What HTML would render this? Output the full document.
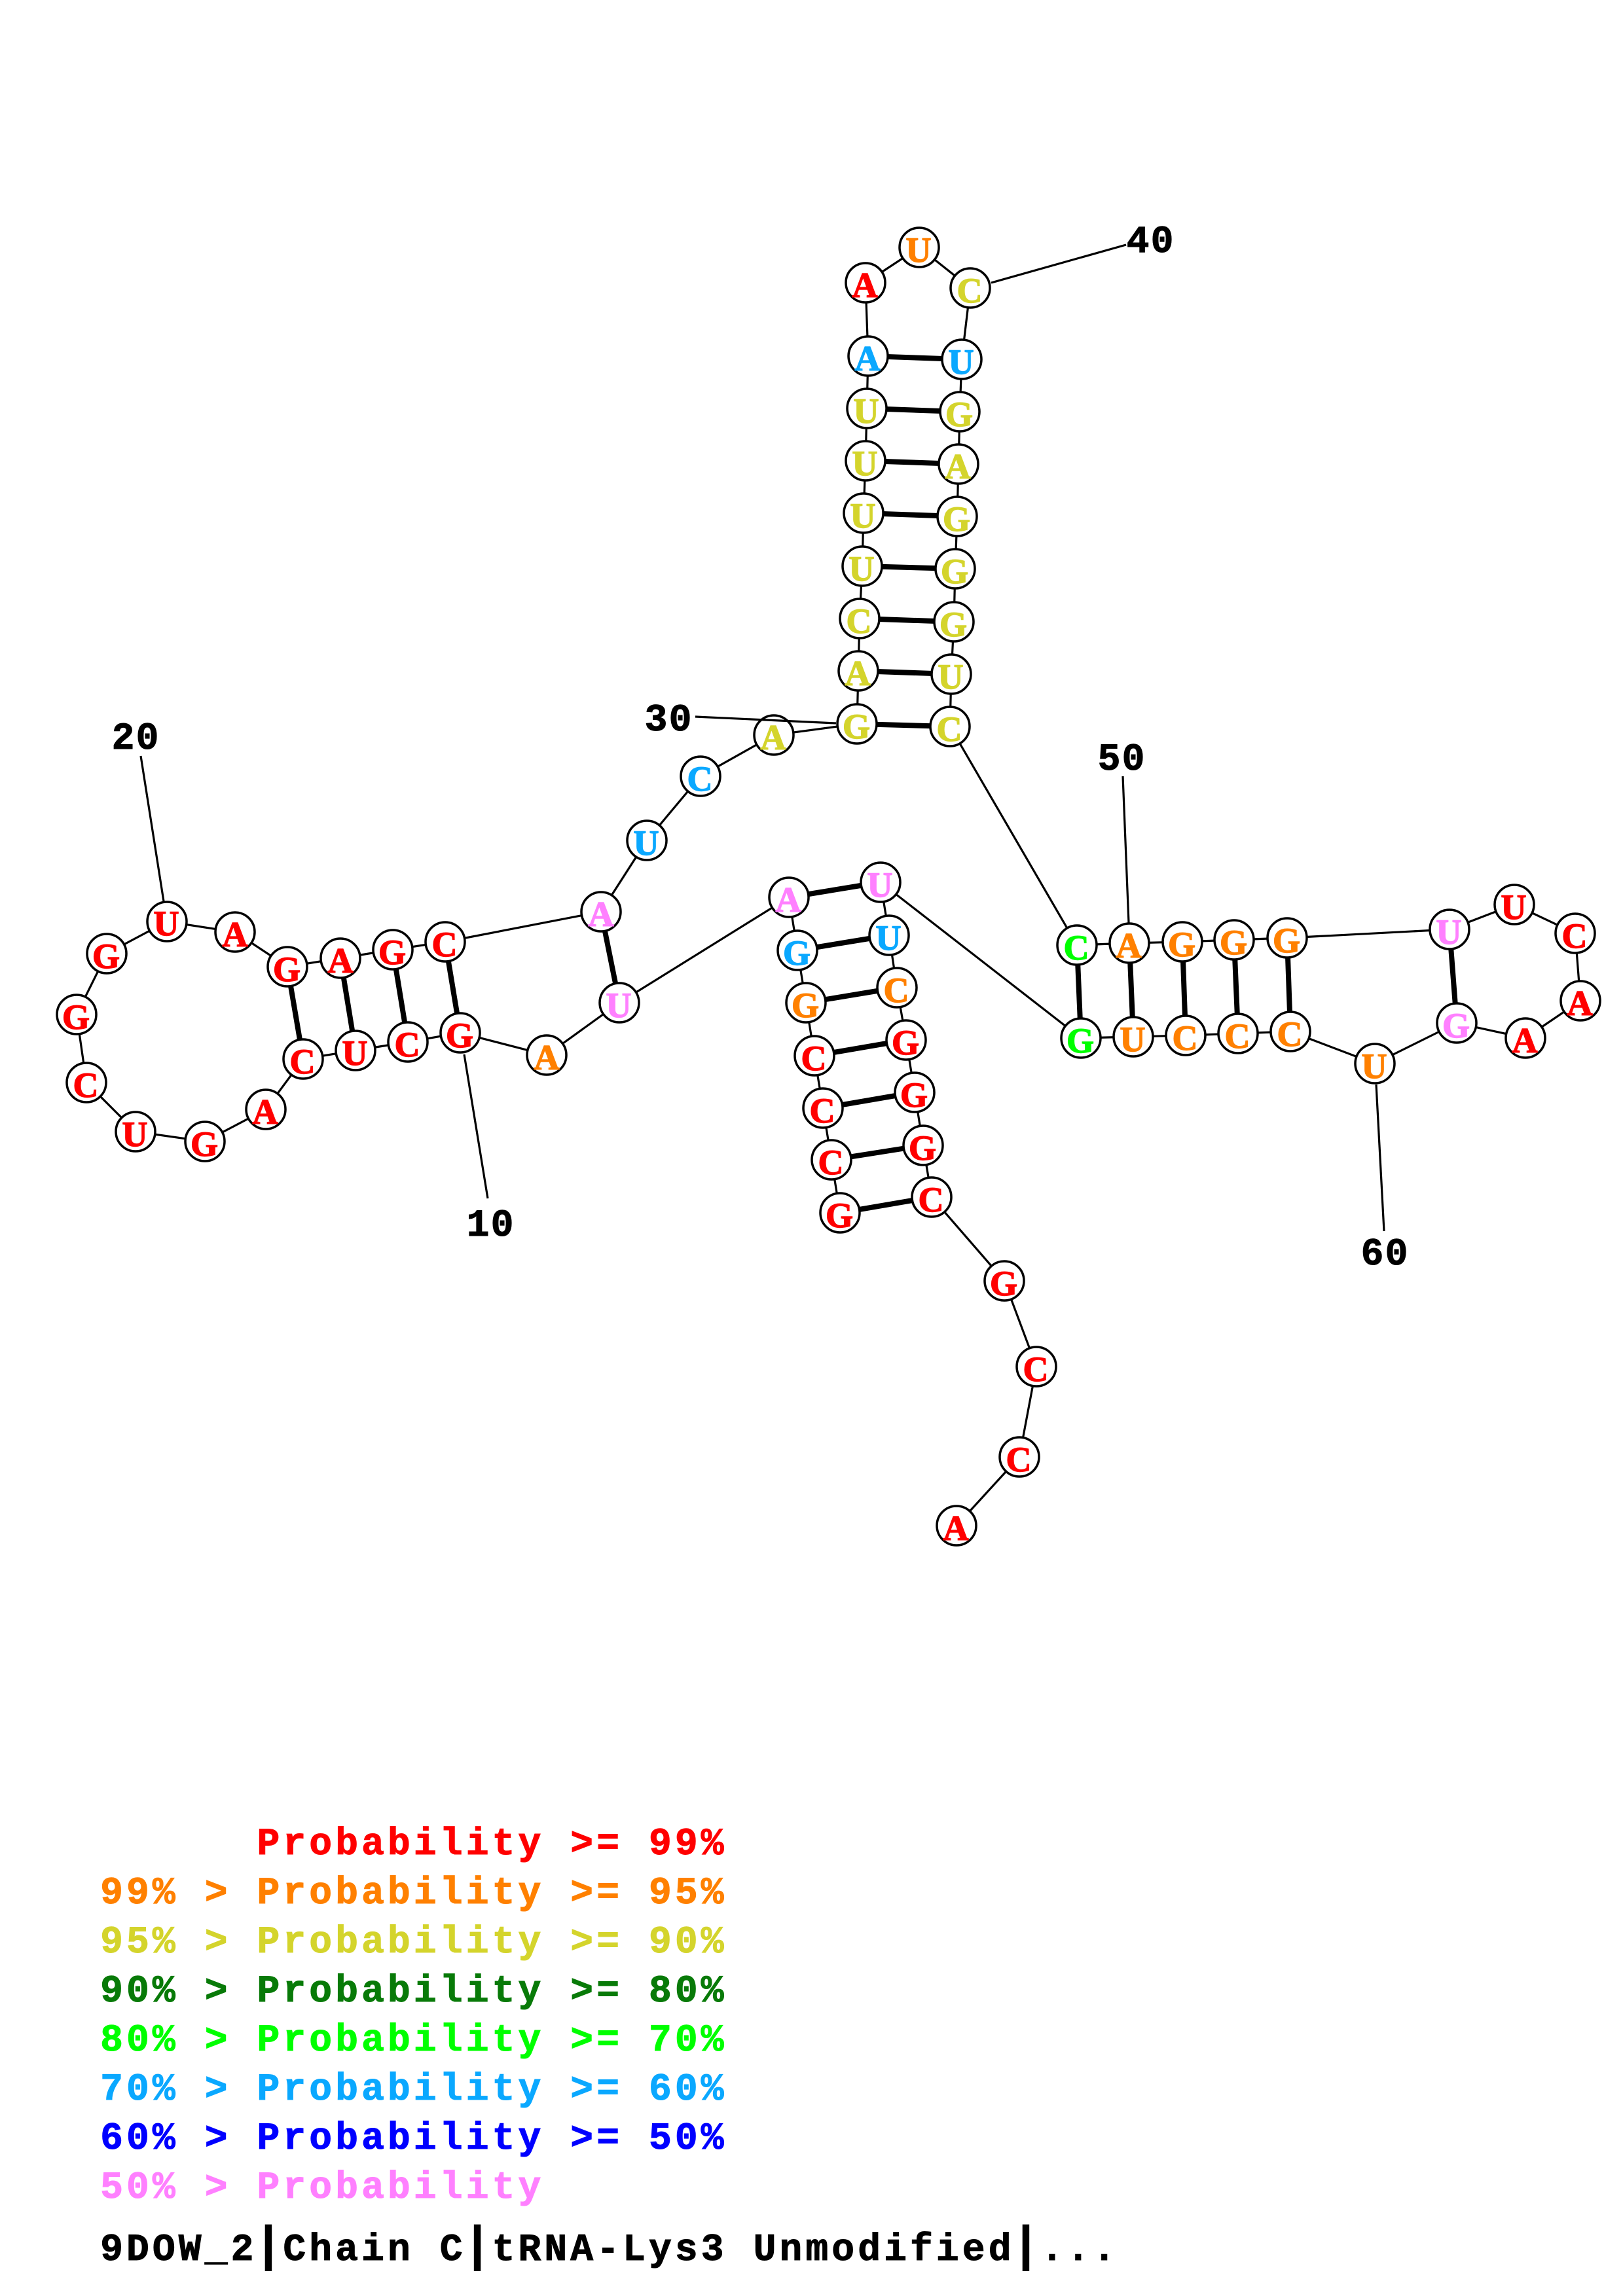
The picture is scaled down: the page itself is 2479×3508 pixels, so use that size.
<!DOCTYPE html>
<html lang="en">
<head>
<meta charset="utf-8">
<title>9DOW_2 RNA secondary structure</title>
<style>
html,body{margin:0;padding:0;background:#fff}
svg{display:block}
.b{stroke:#000;stroke-width:3.2;fill:none}
.p{stroke:#000;stroke-width:8;fill:none}
.l{stroke:#000;stroke-width:3.2;fill:none}
circle{fill:#fff;stroke:#000;stroke-width:3.5}
.n text{font-family:"Liberation Serif",serif;font-weight:700;font-size:54px;text-anchor:middle;stroke-width:1.4}
.t{font-family:"Liberation Mono",monospace;font-weight:700;font-size:58px;text-anchor:middle;stroke-width:1}
.num{font-family:"Liberation Mono",monospace;font-weight:700;font-size:58px;text-anchor:middle;fill:#000;stroke:#000;stroke-width:1}
.r{fill:#ff0000;stroke:#ff0000}.o{fill:#ff8000;stroke:#ff8000}.y{fill:#d4d42c;stroke:#d4d42c}.g{fill:#087a08;stroke:#087a08}.h{fill:#00ff00;stroke:#00ff00}.c{fill:#0aa8ff;stroke:#0aa8ff}.u{fill:#0000ff;stroke:#0000ff}.m{fill:#ff80ff;stroke:#ff80ff}.k{fill:#000;stroke:#000}
</style>
</head>
<body>
<svg xmlns="http://www.w3.org/2000/svg" width="2479" height="3508" viewBox="0 0 2479 3508">
<rect width="2479" height="3508" fill="#fff"/>

<polyline class="b" points="1283,1853 1270,1772 1257,1693 1244,1613 1231,1532 1218,1452 1205,1371 946,1532 835,1612 703,1578 623,1592 543,1605 463,1618 406,1695 313,1744 207,1729 132,1654 117,1550 163,1457 255,1408 359,1424 439,1477 520,1464 600,1451 680,1439 918,1393 988,1284 1070,1186 1182,1123 1309,1106 1311,1025 1313,945 1317,865 1319,784 1322,704 1324,624 1326,544 1322,432 1404,378 1482,440 1469,549 1466,629 1464,709 1462,789 1459,869 1457,950 1453,1030 1451,1110 1645,1444 1725,1441 1806,1439 1885,1436 1966,1433 2214,1420 2313,1382 2406,1426 2414,1529 2330,1586 2225,1563 2100,1625 1971,1576 1891,1579 1811,1582 1731,1584 1651,1586 1345,1348 1358,1429 1370,1509 1384,1589 1397,1669 1410,1750 1423,1829 1534,1957 1583,2088 1557,2226 1461,2331"/>

<g class="p">
<line x1="439" y1="1477" x2="463" y2="1618"/>
<line x1="520" y1="1464" x2="543" y2="1605"/>
<line x1="600" y1="1451" x2="623" y2="1592"/>
<line x1="680" y1="1439" x2="703" y2="1578"/>
<line x1="918" y1="1393" x2="946" y2="1532"/>
<line x1="1326" y1="544" x2="1469" y2="549"/>
<line x1="1324" y1="624" x2="1466" y2="629"/>
<line x1="1322" y1="704" x2="1464" y2="709"/>
<line x1="1319" y1="784" x2="1462" y2="789"/>
<line x1="1317" y1="865" x2="1459" y2="869"/>
<line x1="1313" y1="945" x2="1457" y2="950"/>
<line x1="1311" y1="1025" x2="1453" y2="1030"/>
<line x1="1309" y1="1106" x2="1451" y2="1110"/>
<line x1="1645" y1="1444" x2="1651" y2="1586"/>
<line x1="1725" y1="1441" x2="1731" y2="1584"/>
<line x1="1806" y1="1439" x2="1811" y2="1582"/>
<line x1="1885" y1="1436" x2="1891" y2="1579"/>
<line x1="1966" y1="1433" x2="1971" y2="1576"/>
<line x1="2214" y1="1420" x2="2225" y2="1563"/>
<line x1="1205" y1="1371" x2="1345" y2="1348"/>
<line x1="1218" y1="1452" x2="1358" y2="1429"/>
<line x1="1231" y1="1532" x2="1370" y2="1509"/>
<line x1="1244" y1="1613" x2="1384" y2="1589"/>
<line x1="1257" y1="1693" x2="1397" y2="1669"/>
<line x1="1270" y1="1772" x2="1410" y2="1750"/>
<line x1="1283" y1="1853" x2="1423" y2="1829"/>
</g>

<g>
<circle cx="255" cy="1408" r="30"/><circle cx="359" cy="1424" r="30"/><circle cx="439" cy="1477" r="30"/><circle cx="520" cy="1464" r="30"/><circle cx="600" cy="1451" r="30"/><circle cx="680" cy="1439" r="30"/><circle cx="703" cy="1578" r="30"/><circle cx="623" cy="1592" r="30"/><circle cx="543" cy="1605" r="30"/><circle cx="463" cy="1618" r="30"/><circle cx="406" cy="1695" r="30"/><circle cx="313" cy="1744" r="30"/><circle cx="207" cy="1729" r="30"/><circle cx="132" cy="1654" r="30"/><circle cx="117" cy="1550" r="30"/><circle cx="163" cy="1457" r="30"/>
<circle cx="835" cy="1612" r="30"/><circle cx="918" cy="1393" r="30"/><circle cx="946" cy="1532" r="30"/><circle cx="988" cy="1284" r="30"/><circle cx="1070" cy="1186" r="30"/><circle cx="1182" cy="1123" r="30"/>
<circle cx="1309" cy="1106" r="30"/><circle cx="1311" cy="1025" r="30"/><circle cx="1313" cy="945" r="30"/><circle cx="1317" cy="865" r="30"/><circle cx="1319" cy="784" r="30"/><circle cx="1322" cy="704" r="30"/><circle cx="1324" cy="624" r="30"/><circle cx="1326" cy="544" r="30"/><circle cx="1322" cy="432" r="30"/><circle cx="1404" cy="378" r="30"/><circle cx="1482" cy="440" r="30"/><circle cx="1469" cy="549" r="30"/><circle cx="1466" cy="629" r="30"/><circle cx="1464" cy="709" r="30"/><circle cx="1462" cy="789" r="30"/><circle cx="1459" cy="869" r="30"/><circle cx="1457" cy="950" r="30"/><circle cx="1453" cy="1030" r="30"/><circle cx="1451" cy="1110" r="30"/>
<circle cx="1645" cy="1444" r="30"/><circle cx="1725" cy="1441" r="30"/><circle cx="1806" cy="1439" r="30"/><circle cx="1885" cy="1436" r="30"/><circle cx="1966" cy="1433" r="30"/><circle cx="1651" cy="1586" r="30"/><circle cx="1731" cy="1584" r="30"/><circle cx="1811" cy="1582" r="30"/><circle cx="1891" cy="1579" r="30"/><circle cx="1971" cy="1576" r="30"/><circle cx="2100" cy="1625" r="30"/><circle cx="2225" cy="1563" r="30"/><circle cx="2214" cy="1420" r="30"/><circle cx="2313" cy="1382" r="30"/><circle cx="2406" cy="1426" r="30"/><circle cx="2414" cy="1529" r="30"/><circle cx="2330" cy="1586" r="30"/>
<circle cx="1205" cy="1371" r="30"/><circle cx="1345" cy="1348" r="30"/><circle cx="1218" cy="1452" r="30"/><circle cx="1358" cy="1429" r="30"/><circle cx="1231" cy="1532" r="30"/><circle cx="1370" cy="1509" r="30"/><circle cx="1244" cy="1613" r="30"/><circle cx="1384" cy="1589" r="30"/><circle cx="1257" cy="1693" r="30"/><circle cx="1397" cy="1669" r="30"/><circle cx="1270" cy="1772" r="30"/><circle cx="1410" cy="1750" r="30"/><circle cx="1283" cy="1853" r="30"/><circle cx="1423" cy="1829" r="30"/><circle cx="1534" cy="1957" r="30"/><circle cx="1583" cy="2088" r="30"/><circle cx="1557" cy="2226" r="30"/><circle cx="1461" cy="2331" r="30"/>
</g>

<g class="n">
<text class="r" x="254" y="1429">U</text><text class="r" x="359" y="1446">A</text><text class="r" x="438" y="1499">G</text><text class="r" x="520" y="1486">A</text><text class="r" x="599" y="1473">G</text><text class="r" x="679" y="1461">C</text><text class="r" x="702" y="1600">G</text><text class="r" x="622" y="1614">C</text><text class="r" x="542" y="1627">U</text><text class="r" x="462" y="1640">C</text><text class="r" x="405" y="1717">A</text><text class="r" x="312" y="1766">G</text><text class="r" x="206" y="1751">U</text><text class="r" x="131" y="1676">C</text><text class="r" x="116" y="1572">G</text><text class="r" x="162" y="1479">G</text>
<text class="o" x="835" y="1634">A</text><text class="m" x="918" y="1415">A</text><text class="m" x="945" y="1554">U</text><text class="c" x="987" y="1306">U</text><text class="c" x="1069" y="1208">C</text><text class="y" x="1181" y="1145">A</text>
<text class="y" x="1308" y="1128">G</text><text class="y" x="1310" y="1047">A</text><text class="y" x="1312" y="967">C</text><text class="y" x="1316" y="887">U</text><text class="y" x="1318" y="806">U</text><text class="y" x="1321" y="726">U</text><text class="y" x="1323" y="646">U</text><text class="c" x="1325" y="566">A</text><text class="r" x="1321" y="454">A</text><text class="o" x="1403" y="400">U</text><text class="y" x="1481" y="462">C</text><text class="c" x="1468" y="571">U</text><text class="y" x="1465" y="651">G</text><text class="y" x="1463" y="731">A</text><text class="y" x="1461" y="811">G</text><text class="y" x="1458" y="891">G</text><text class="y" x="1456" y="972">G</text><text class="y" x="1452" y="1052">U</text><text class="y" x="1450" y="1132">C</text>
<text class="h" x="1644" y="1466">C</text><text class="o" x="1724" y="1463">A</text><text class="o" x="1805" y="1461">G</text><text class="o" x="1884" y="1458">G</text><text class="o" x="1965" y="1455">G</text><text class="h" x="1650" y="1608">G</text><text class="o" x="1730" y="1606">U</text><text class="o" x="1810" y="1604">C</text><text class="o" x="1890" y="1601">C</text><text class="o" x="1970" y="1598">C</text><text class="o" x="2099" y="1647">U</text><text class="m" x="2224" y="1585">G</text><text class="m" x="2213" y="1442">U</text><text class="r" x="2312" y="1404">U</text><text class="r" x="2405" y="1448">C</text><text class="r" x="2413" y="1551">A</text><text class="r" x="2329" y="1608">A</text>
<text class="m" x="1204" y="1393">A</text><text class="m" x="1344" y="1370">U</text><text class="c" x="1217" y="1474">G</text><text class="c" x="1357" y="1451">U</text><text class="o" x="1230" y="1554">G</text><text class="o" x="1369" y="1531">C</text><text class="r" x="1243" y="1635">C</text><text class="r" x="1383" y="1611">G</text><text class="r" x="1256" y="1715">C</text><text class="r" x="1396" y="1691">G</text><text class="r" x="1269" y="1794">C</text><text class="r" x="1409" y="1772">G</text><text class="r" x="1282" y="1875">G</text><text class="r" x="1422" y="1851">C</text><text class="r" x="1533" y="1979">G</text><text class="r" x="1582" y="2110">C</text><text class="r" x="1556" y="2248">C</text><text class="r" x="1460" y="2353">A</text>
</g>

<g class="l">
<line x1="709" y1="1611" x2="745" y2="1831"/>
<line x1="215" y1="1155" x2="250" y2="1377"/>
<line x1="1062" y1="1095" x2="1277" y2="1105"/>
<line x1="1514" y1="432" x2="1720" y2="374"/>
<line x1="1715" y1="1186" x2="1724" y2="1410"/>
<line x1="2102" y1="1657" x2="2114" y2="1881"/>
</g>
<g class="num">
<text x="730 767" y="1888">10</text>
<text x="188 225" y="1144">20</text>
<text x="1002 1039" y="1116">30</text>
<text x="1738 1775" y="385">40</text>
<text x="1694 1731" y="1176">50</text>
<text x="2096 2133" y="1932">60</text>
</g>

<g class="t">
<text class="r" y="2833" x="409.9 449.8 489.7 529.6 569.5 609.4 649.3 689.2 729.1 769 808.9 848.8 888.7 928.6 968.5 1008.4 1048.3 1088.2">Probability &gt;= 99%</text>
<text class="o" y="2908" x="170.5 210.4 250.3 290.2 330.1 370 409.9 449.8 489.7 529.6 569.5 609.4 649.3 689.2 729.1 769 808.9 848.8 888.7 928.6 968.5 1008.4 1048.3 1088.2">99% &gt; Probability &gt;= 95%</text>
<text class="y" y="2983" x="170.5 210.4 250.3 290.2 330.1 370 409.9 449.8 489.7 529.6 569.5 609.4 649.3 689.2 729.1 769 808.9 848.8 888.7 928.6 968.5 1008.4 1048.3 1088.2">95% &gt; Probability &gt;= 90%</text>
<text class="g" y="3058" x="170.5 210.4 250.3 290.2 330.1 370 409.9 449.8 489.7 529.6 569.5 609.4 649.3 689.2 729.1 769 808.9 848.8 888.7 928.6 968.5 1008.4 1048.3 1088.2">90% &gt; Probability &gt;= 80%</text>
<text class="h" y="3133" x="170.5 210.4 250.3 290.2 330.1 370 409.9 449.8 489.7 529.6 569.5 609.4 649.3 689.2 729.1 769 808.9 848.8 888.7 928.6 968.5 1008.4 1048.3 1088.2">80% &gt; Probability &gt;= 70%</text>
<text class="c" y="3208" x="170.5 210.4 250.3 290.2 330.1 370 409.9 449.8 489.7 529.6 569.5 609.4 649.3 689.2 729.1 769 808.9 848.8 888.7 928.6 968.5 1008.4 1048.3 1088.2">70% &gt; Probability &gt;= 60%</text>
<text class="u" y="3283" x="170.5 210.4 250.3 290.2 330.1 370 409.9 449.8 489.7 529.6 569.5 609.4 649.3 689.2 729.1 769 808.9 848.8 888.7 928.6 968.5 1008.4 1048.3 1088.2">60% &gt; Probability &gt;= 50%</text>
<text class="m" y="3358" x="170.5 210.4 250.3 290.2 330.1 370 409.9 449.8 489.7 529.6 569.5 609.4 649.3 689.2 729.1 769 808.9">50% &gt; Probability</text>
<text class="k" y="3453" x="170.5 210.4 250.3 290.2 330.1 370 409.9 449.8 489.7 529.6 569.5 609.4 649.3 689.2 729.1 769 808.9 848.8 888.7 928.6 968.5 1008.4 1048.3 1088.2 1128.1 1168 1207.9 1247.8 1287.7 1327.6 1367.5 1407.4 1447.3 1487.2 1527.1 1567 1606.9 1646.8 1686.7">9DOW_2<tspan font-size="74">|</tspan>Chain C<tspan font-size="74">|</tspan>tRNA-Lys3 Unmodified<tspan font-size="74">|</tspan>...</text>
</g>
</svg>
</body>
</html>
